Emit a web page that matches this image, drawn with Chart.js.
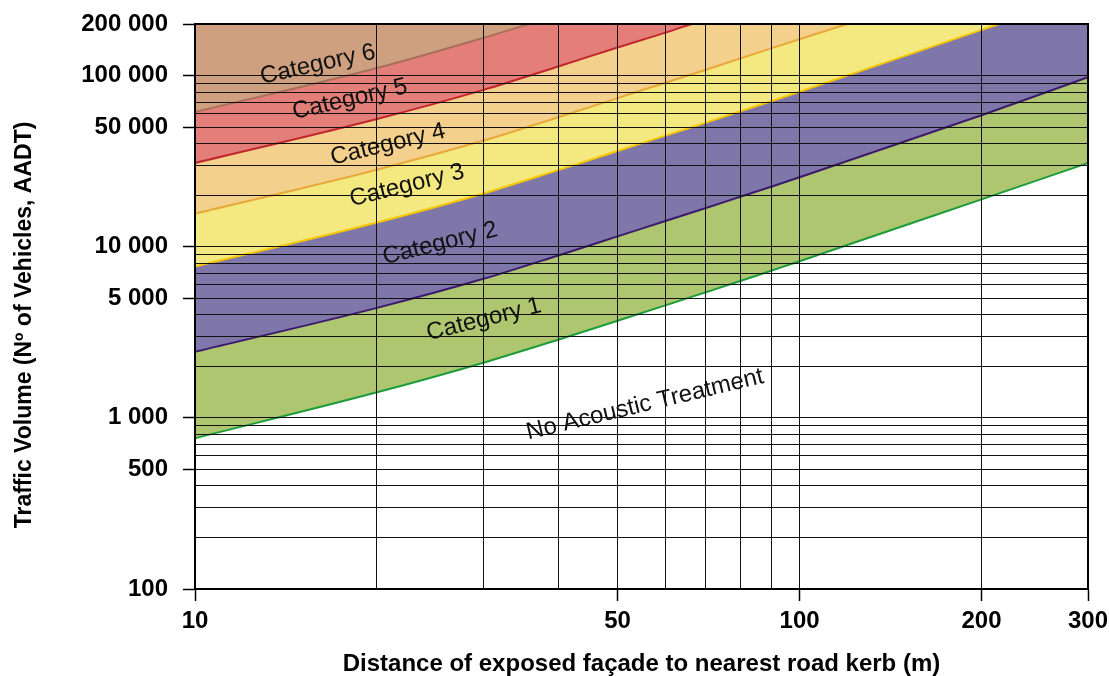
<!DOCTYPE html>
<html>
<head>
<meta charset="utf-8">
<script src="https://cdn.jsdelivr.net/npm/chart.js@4.4.0/dist/chart.umd.min.js"></script>
<style>
  html, body { margin: 0; padding: 0; background: #fff; }
</style>
</head>
<body>
<canvas id="chart" width="1109" height="676"></canvas>
<script>
// lower edge of each category: distance (m) -> traffic volume (AADT)
const distances = [10, 20, 30, 40, 50, 60, 70, 80, 90, 100, 200, 300];
const cat1Y = [760, 1410, 2100, 2870, 3690, 4540, 5420, 6320, 7260, 8220, 18900, 30800];
const cat2Y = [2430, 4390, 6490, 8910, 11480, 14130, 16830, 19630, 22490, 25470, 58600, 97700];
const cat3X = [10, 20, 30, 40, 50, 60, 70, 80, 90, 100, 200, 214];
const cat3Y = [7660, 13840, 20460, 28120, 36220, 44570, 53090, 61940, 70960, 80350, 184900, 200000];
const cat4X = [10, 20, 30, 40, 50, 60, 70, 80, 90, 100, 120];
const cat4Y = [15600, 28180, 41690, 57280, 73790, 90780, 108150, 126190, 144540, 163000, 200000];
const cat5X = [10, 20, 30, 40, 50, 60, 66.3];
const cat5Y = [30830, 55720, 82420, 113240, 145880, 178000, 200000];
const cat6X = [10, 20, 30, 35.7];
const cat6Y = [61200, 110600, 166000, 200000];

// grid lines and labelled ticks
const xGrid = [10, 20, 30, 40, 50, 60, 70, 80, 90, 100, 200, 300];
const xLabels = [10, 50, 100, 200, 300];
const yGrid = [100, 200, 300, 400, 500, 600, 700, 800, 900,
  1000, 2000, 3000, 4000, 5000, 6000, 7000, 8000, 9000,
  10000, 20000, 30000, 40000, 50000, 60000, 70000, 80000, 90000,
  100000, 200000];
const yLabels = [100, 500, 1000, 5000, 10000, 50000, 100000, 200000];

// names written inside the bands
const regionNames = ['Category 6', 'Category 5', 'Category 4', 'Category 3', 'Category 2', 'Category 1', 'No Acoustic Treatment'];
const regionX = [15.97, 18.04, 20.85, 22.42, 25.43, 30.06, 55.5];
const regionY = [116000, 72500, 39510, 22760, 10430, 3750, 1195];
const regionAngle = [12.5, 13, 13.5, 14, 14, 14, 13.5];

const FONT = '"Liberation Sans", Arial, Helvetica, sans-serif';
Chart.defaults.font.family = FONT;

function points(xs, ys) {
  return xs.map((v, i) => ({x: v, y: ys[i]}));
}

function band(xs, ys, fillColor, lineColor, order) {
  return {
    data: points(xs, ys),
    backgroundColor: fillColor,
    borderColor: lineColor,
    borderWidth: 2,
    fill: 'end',
    pointRadius: 0,
    cubicInterpolationMode: 'monotone',
    order: order
  };
}

function spaced(v) {
  return String(v).replace(/\B(?=(\d{3})+(?!\d))/g, ' ');
}

const labelsPlugin = {
  id: 'labels',
  afterDraw(chart) {
    const {ctx, chartArea, scales} = chart;
    ctx.save();
    ctx.lineWidth = 2;
    ctx.strokeStyle = '#000';
    ctx.strokeRect(chartArea.left, chartArea.top, chartArea.right - chartArea.left, chartArea.bottom - chartArea.top);

    ctx.fillStyle = '#111';
    ctx.textAlign = 'center';
    ctx.textBaseline = 'middle';
    ctx.font = '24px ' + FONT;
    regionNames.forEach((name, i) => {
      ctx.save();
      ctx.translate(scales.x.getPixelForValue(regionX[i]), scales.y.getPixelForValue(regionY[i]));
      ctx.rotate(-regionAngle[i] * Math.PI / 180);
      ctx.fillText(name, 0, 0);
      ctx.restore();
    });

    // y axis title
    ctx.fillStyle = '#000';
    ctx.font = 'bold 23px ' + FONT;
    ctx.translate(25, 325);
    ctx.rotate(-Math.PI / 2);
    ctx.fillText('Traffic Volume (Nº of Vehicles, AADT)', 0, 0);
    ctx.restore();
  }
};

new Chart(document.getElementById('chart'), {
  type: 'line',
  data: {
    datasets: [
      band(distances, cat1Y, '#adc66f', '#1e9c3a', 6),
      band(distances, cat2Y, '#7f77aa', '#3d1a6e', 5),
      band(cat3X, cat3Y, '#f4e981', '#f6c700', 4),
      band(cat4X, cat4Y, '#f4d08d', '#e8a93a', 3),
      band(cat5X, cat5Y, '#e37e79', '#c1272d', 2),
      band(cat6X, cat6Y, '#cea080', '#a8705c', 1)
    ]
  },
  options: {
    responsive: false,
    animation: false,
    events: [],
    layout: { padding: { top: 24, right: 21, left: 0, bottom: 0 } },
    plugins: {
      legend: { display: false },
      tooltip: { enabled: false }
    },
    scales: {
      x: {
        type: 'logarithmic',
        min: 10,
        max: 300,
        afterBuildTicks: s => { s.ticks = xGrid.map(v => ({value: v})); },
        afterFit: s => { s.height = 87; s.paddingLeft = 0; s.paddingRight = 0; },
        ticks: {
          autoSkip: false,
          maxRotation: 0,
          padding: 6,
          color: '#000',
          font: { size: 24, weight: 'bold' },
          callback: v => xLabels.includes(v) ? String(v) : ''
        },
        grid: {
          z: 1,
          color: '#111',
          lineWidth: 1,
          tickLength: 12,
          tickWidth: 1.5,
          tickColor: c => (c.tick && xLabels.includes(c.tick.value)) ? '#000' : 'rgba(0,0,0,0)'
        },
        border: { color: '#000', width: 2, z: 1 },
        title: {
          display: true,
          text: 'Distance of exposed façade to nearest road kerb (m)',
          color: '#000',
          font: { size: 24, weight: 'bold', lineHeight: 1 },
          padding: { top: 0, bottom: 0 }
        }
      },
      y: {
        type: 'logarithmic',
        min: 100,
        max: 200000,
        afterBuildTicks: s => { s.ticks = yGrid.map(v => ({value: v})); },
        afterFit: s => { s.width = 195; s.paddingTop = 0; s.paddingBottom = 0; },
        ticks: {
          autoSkip: false,
          padding: 15,
          color: '#000',
          font: { size: 24, weight: 'bold' },
          callback: v => yLabels.includes(v) ? spaced(v) : ''
        },
        grid: {
          z: 1,
          color: '#111',
          lineWidth: 1,
          tickLength: 12,
          tickWidth: 1.5,
          tickColor: c => (c.tick && yLabels.includes(c.tick.value)) ? '#000' : 'rgba(0,0,0,0)'
        },
        border: { color: '#000', width: 2, z: 1 }
      }
    }
  },
  plugins: [labelsPlugin]
});
</script>
</body>
</html>
